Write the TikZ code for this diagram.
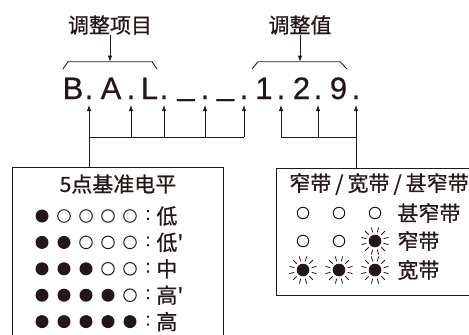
\documentclass[tikz,border=0pt]{standalone}
\usepackage{fontspec}
\newfontfamily\cjk{Noto Sans CJK SC}[FakeBold=0.7]
\newfontfamily\lat{Liberation Sans}[FakeBold=0.5]
\usetikzlibrary{arrows.meta}
\definecolor{ink}{HTML}{231815}
\begin{document}
\begin{tikzpicture}[x=1pt,y=-1pt,line width=0.9pt,draw=ink,
  lbl/.style={font=\cjk\fontsize{21}{21}\selectfont,inner sep=0pt,text=ink},
  rowlbl/.style={font=\cjk\fontsize{21}{21}\selectfont,inner sep=0pt,text=ink,anchor=west},
  code/.style={font=\lat\fontsize{31}{31}\selectfont,inner sep=0pt,anchor=base,text=ink},
  arr/.style={-{Latex[length=6pt,width=4.5pt]},draw=ink},
  ledon/.style={circle,fill=ink,minimum size=13pt,inner sep=0pt},
  ledoff/.style={circle,draw=ink,line width=1pt,minimum size=12.5pt,inner sep=0pt},
  ledoffb/.style={circle,draw=ink,line width=1pt,minimum size=11.5pt,inner sep=0pt},
  boxstyle/.style={draw=ink,line width=0.9pt,inner sep=0pt,anchor=north west},
  flash/.pic={\fill[ink] (0,0) circle (6.3);
    \foreach \a in {15,45,...,345} \draw[ink,line width=0.8pt] (\a:9) -- (\a:14);}
]
\useasboundingbox (0,0) rectangle (469,335);
\clip (0,0) rectangle (469,335);

% top labels
\node[lbl] (labA) at (110,25) {调整项目};
\node[lbl] (labB) at (300,25) {调整值};
\coordinate (brA) at (110,61.7);
\coordinate (brB) at (300,61.7);
\draw[arr] (labA) -- (brA);
\draw[arr] (labB) -- (brB);
\draw (63,69) -- (68,61.7) -- (152,61.7) -- (157,69);
\draw (252,69) -- (258,61.7) -- (340,61.7) -- (347,69);

% code line
\node[code] (cB) at (73,99) {B};
\node[code] (d1) at (89,99) {.};
\node[code] (cA) at (111,99) {A};
\node[code] (d2) at (131,99) {.};
\node[code] (cL) at (149.5,99) {L};
\node[code] (d3) at (164,99) {.};
\node[code] (u1) at (186,99) {\raisebox{4pt}{\_}};
\node[code] (d4) at (205,99) {.};
\node[code] (u2) at (225.5,99) {\raisebox{4pt}{\_}};
\node[code] (d5) at (244,99) {.};
\node[code] (c1) at (264,99) {1};
\node[code] (d6) at (281,99) {.};
\node[code] (c2) at (301.5,99) {2};
\node[code] (d7) at (318,99) {.};
\node[code] (c9) at (338.5,99) {9};
\node[code] (d8) at (356,99) {.};

% arrow tips and junctions
\foreach \i/\x in {1/89,2/131,3/164,4/205,5/244,6/281,7/318,8/356}{
  \coordinate (t\i) at (\x,105);
  \coordinate (j\i) at (\x,137);
}

% boxes
\node[boxstyle,minimum width=211pt,minimum height=200pt] (boxL) at (12,167) {};
\node[boxstyle,minimum width=230pt,minimum height=127pt] (boxR) at (276,168) {};

\draw (j1) -- (j5);
\draw (j6) -- (j8);
\draw[arr] (boxL.north -| t1) -- (t1);
\foreach \i in {2,3,4,5,6,7} \draw[arr] (j\i) -- (t\i);
\draw[arr] (boxR.north -| t8) -- (t8);

% left box content
\node[lbl] (titL) at (118,184) {5点基准电平};
\foreach \r/\lab in {1/低,2/低',3/中,4/高',5/高}{
  \pgfmathsetmacro{\yy}{216+26.4*(\r-1)}
  \foreach \c/\x in {1/42,2/64,3/86,4/108,5/130}{
    \ifnum\c>\r
      \node[ledoff] (l\r\c) at (\x,\yy) {};
    \else
      \node[ledon] (l\r\c) at (\x,\yy) {};
    \fi
  }
  \node[rowlbl,font=\lat\fontsize{18}{18}\selectfont,anchor=center] (col\r) at (148,\yy-1) {:};
  \node[rowlbl] (lab\r) at (156,\yy) {\lab};
}

% right box content
\node[lbl] (titR) at (379,184) {窄带\kern4pt/\kern4pt宽带\kern4pt/\kern4pt甚窄带};
\node[ledoffb] (r11) at (303,213) {};
\node[ledoffb] (r12) at (339,213) {};
\node[ledoffb] (r13) at (375,213) {};
\node[rowlbl] (rl1) at (397,213) {甚窄带};
\node[ledoffb] (r21) at (303,241) {};
\node[ledoffb] (r22) at (339,241) {};
\pic at (375,241) {flash};
\node[rowlbl] (rl2) at (397,241) {窄带};
\pic at (303,270) {flash};
\pic at (339,270) {flash};
\pic at (375,270) {flash};
\node[rowlbl] (rl3) at (397,270) {宽带};
\end{tikzpicture}
\end{document}
